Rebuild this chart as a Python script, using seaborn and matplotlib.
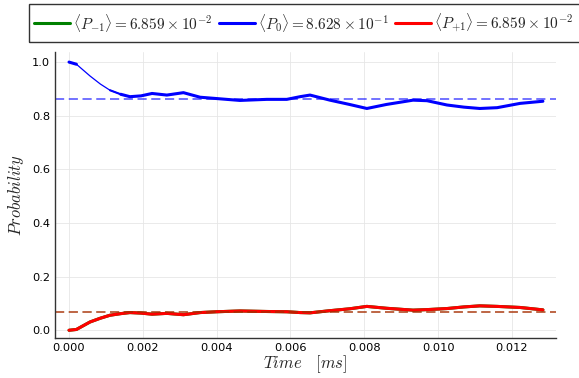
import pandas as pd
import seaborn as sns
import matplotlib.pyplot as plt
from matplotlib.patches import Rectangle

# values
time = [0.0, 0.0002, 0.00057, 0.00085, 0.00111, 0.00140, 0.00165, 0.00195, 0.00225, 0.00265,
        0.0031, 0.00355, 0.0040, 0.00463, 0.00536, 0.0059, 0.00626, 0.00653, 0.00707, 0.0076,
        0.00807, 0.0086, 0.00932, 0.0097, 0.01024, 0.01070, 0.01113, 0.0116, 0.01222, 0.01284]
p0 = [1.0, 0.992, 0.948, 0.918, 0.895, 0.880, 0.871, 0.874, 0.883, 0.877,
      0.886, 0.869, 0.864, 0.857, 0.861, 0.861, 0.871, 0.877, 0.858, 0.842,
      0.827, 0.842, 0.858, 0.856, 0.840, 0.832, 0.827, 0.830, 0.846, 0.854]
p_plus = [0.0, 0.003, 0.031, 0.045, 0.056, 0.062, 0.066, 0.064, 0.060, 0.063,
          0.058, 0.066, 0.069, 0.072, 0.070, 0.069, 0.066, 0.065, 0.073, 0.080,
          0.089, 0.082, 0.075, 0.077, 0.081, 0.087, 0.091, 0.089, 0.085, 0.076]
p_minus = p_plus
mean_minus = 6.859e-2
mean_0 = 8.628e-1
mean_plus = 6.859e-2

df = pd.DataFrame({'time': time, 'p0': p0, 'p_plus': p_plus, 'p_minus': p_minus})
# the blue curve looks thin while it falls steeply
head0 = df[df.time <= 0.0002]
mid0 = df[(df.time >= 0.00111) & (df.time <= 0.0014)]
tail0 = df[df.time >= 0.0014]

sns.set_style('white')
plt.rcParams['mathtext.fontset'] = 'cm'

fig = plt.figure(figsize=(5.79, 3.78), dpi=100)
ax = fig.add_axes([0.095, 0.105, 0.865, 0.757])

sns.lineplot(data=df, x='time', y='p_minus', ax=ax, color='green', lw=2.2,
             label=r'$\langle P_{-1}\rangle = 6.859\times10^{-2}$')
sns.lineplot(data=df, x='time', y='p0', ax=ax, color='blue', lw=0.9)
sns.lineplot(data=head0, x='time', y='p0', ax=ax, color='blue', lw=2.2)
sns.lineplot(data=mid0, x='time', y='p0', ax=ax, color='blue', lw=1.5)
sns.lineplot(data=tail0, x='time', y='p0', ax=ax, color='blue', lw=2.2,
             label=r'$\langle P_{0}\rangle = 8.628\times10^{-1}\ \ $')
sns.lineplot(data=df, x='time', y='p_plus', ax=ax, color='red', lw=2.2,
             label=r'$\langle P_{+1}\rangle = 6.859\times10^{-2}$')

ax.axhline(mean_minus, color='green', ls='--', lw=1.1, alpha=0.6, dashes=(6, 3))
ax.axhline(mean_0, color='blue', ls='--', lw=1.1, alpha=0.7, dashes=(6, 3))
ax.axhline(mean_plus, color='red', ls='--', lw=1.1, alpha=0.6, dashes=(6, 3))

ax.set_xlim(-0.00038, 0.01319)
ax.set_ylim(-0.03, 1.037)
ax.set_xticks([0.0, 0.002, 0.004, 0.006, 0.008, 0.010, 0.012])
ax.set_xticklabels(['0.000', '0.002', '0.004', '0.006', '0.008', '0.010', '0.012'])
ax.set_yticks([0.0, 0.2, 0.4, 0.6, 0.8, 1.0])
ax.tick_params(axis='both', labelsize=8.2, colors='black', length=3, direction='in')
ax.grid(True, color='#e6e6e6', lw=0.6)
for s in ['top', 'right']:
    ax.spines[s].set_visible(False)
for s in ['left', 'bottom']:
    ax.spines[s].set_color('#333333')
    ax.spines[s].set_linewidth(1.0)

ax.set_xlabel(r'$Time\quad[ms]$', fontsize=12, labelpad=0)
ax.set_ylabel(r'$Probability$', fontsize=12, labelpad=4)

ax.legend(loc='center left', bbox_to_anchor=(34 / 579, 1 - 23 / 378), bbox_transform=fig.transFigure,
          ncol=3, frameon=False, fontsize=11, borderpad=0, borderaxespad=0,
          handlelength=2.35, handletextpad=0.2, columnspacing=0.45)
# legend frame runs past the right edge of the picture
fig.patches.append(Rectangle((29 / 579, 1 - 42 / 378), 1.1, 38 / 378, transform=fig.transFigure,
                             fill=False, edgecolor='#333333', lw=1.0, clip_on=False))

fig.savefig('out.png', dpi=100)
